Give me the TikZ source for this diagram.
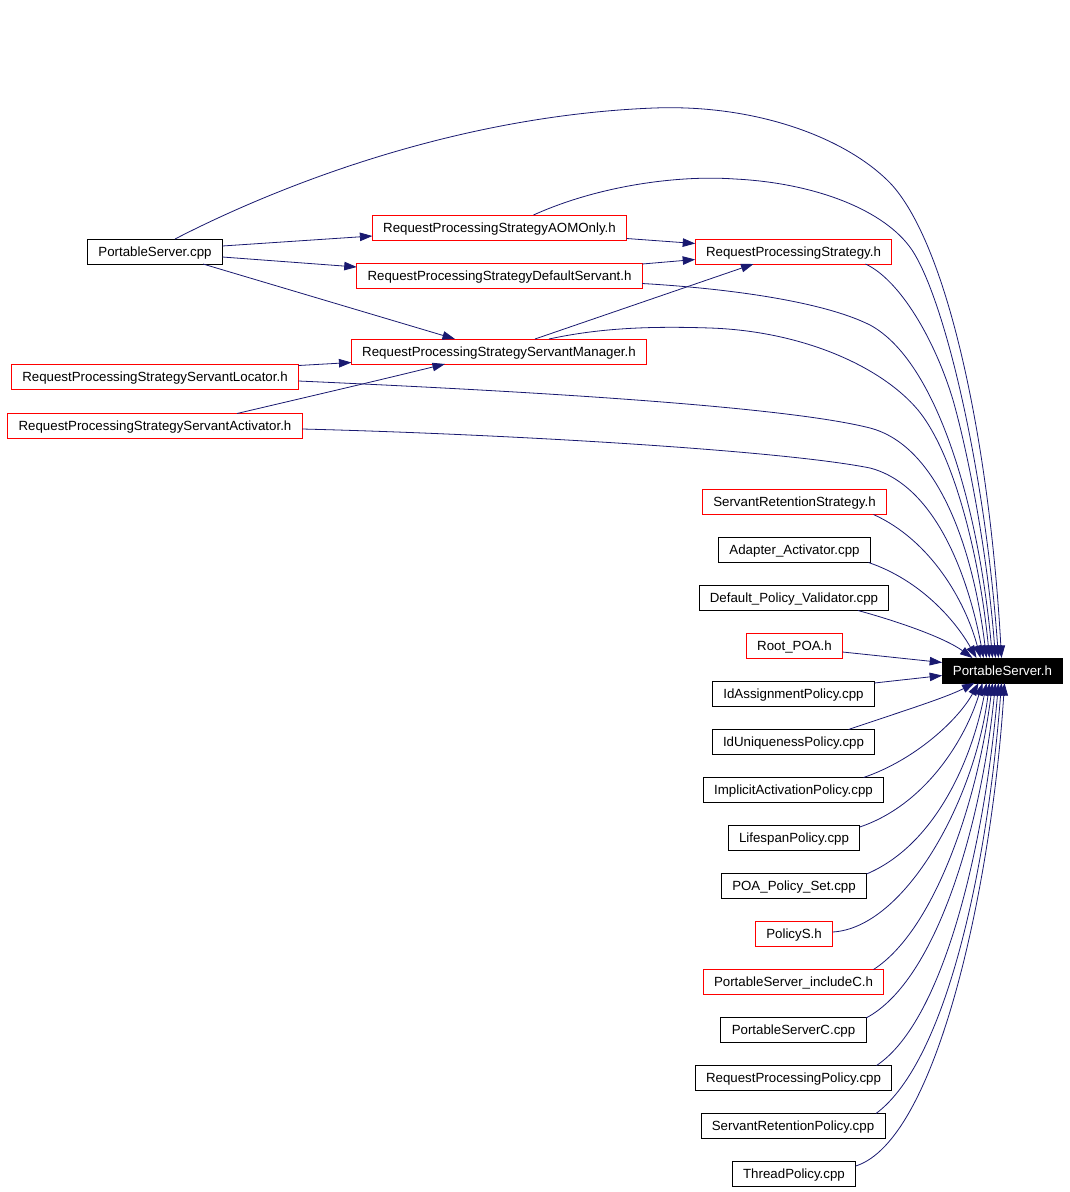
\documentclass[tikz,border=0pt]{standalone}
\usepackage{fontspec}
\setmainfont{Liberation Sans}
\usetikzlibrary{arrows.meta,calc}
\definecolor{edgeblue}{HTML}{191970}
\begin{document}
\begin{tikzpicture}[x=1pt,y=-1pt,
  box/.style={draw=black,line width=1pt,fill=white,inner xsep=10.8pt,inner ysep=0pt,
    minimum height=25pt,text height=9.6pt,text depth=0.6pt,
    font=\fontsize{13.3}{16}\selectfont,outer sep=0pt},
  redbox/.style={box,draw=red},
  darkbox/.style={box,fill=black,draw=black,text=white},
  edge/.style={draw=edgeblue,line width=0.8pt,-{Triangle[length=12.5pt,width=8.5pt]}}]
\useasboundingbox[fill=white] (0,0) rectangle (1069,1192);

% left / middle nodes
\node[box]    (pscpp) at (155,251.5) {PortableServer.cpp};
\node[redbox] (aom)   at (499.5,227.5) {RequestProcessingStrategyAOMOnly.h};
\node[redbox] (def)   at (499.5,275.5) {RequestProcessingStrategyDefaultServant.h};
\node[redbox] (rps)   at (793.5,251.5) {RequestProcessingStrategy.h};
\node[redbox] (sm)    at (499,351.5) {RequestProcessingStrategyServantManager.h};
\node[redbox] (sl)    at (155,376.5) {RequestProcessingStrategyServantLocator.h};
\node[redbox] (sa)    at (155,426) {RequestProcessingStrategyServantActivator.h};

% right column
\node[redbox] (srs)  at (794.5,502) {ServantRetentionStrategy.h};
\node[box]    (aa)   at (794.5,550) {Adapter\_Activator.cpp};
\node[box]    (dpv)  at (794,598) {Default\_Policy\_Validator.cpp};
\node[redbox] (root) at (794.5,646) {Root\_POA.h};
\node[box]    (ida)  at (793.5,694) {IdAssignmentPolicy.cpp};
\node[box]    (idu)  at (793.5,742) {IdUniquenessPolicy.cpp};
\node[box]    (iap)  at (793.5,790) {ImplicitActivationPolicy.cpp};
\node[box]    (lsp)  at (794,838) {LifespanPolicy.cpp};
\node[box]    (pps)  at (794,886) {POA\_Policy\_Set.cpp};
\node[redbox] (pol)  at (794,934) {PolicyS.h};
\node[redbox] (inc)  at (793.5,982) {PortableServer\_includeC.h};
\node[box]    (psc)  at (793.5,1030) {PortableServerC.cpp};
\node[box]    (rpp)  at (793.5,1078) {RequestProcessingPolicy.cpp};
\node[box]    (srp)  at (793,1126) {ServantRetentionPolicy.cpp};
\node[box]    (thr)  at (794,1174) {ThreadPolicy.cpp};

\node[darkbox] (psh) at (1002.5,670.5) {PortableServer.h};

% edges among upper nodes
\draw[edge] ($(pscpp.east)+(0,-5.5)$) -- ($(aom.west)+(0,8.5)$);
\draw[edge] ($(pscpp.east)+(0,5.5)$) -- ($(def.west)+(0,-8.5)$);
\draw[edge] ($(pscpp.south)+(48,0)$) -- ($(sm.north)+(-44,0)$);
\draw[edge] ($(aom.east)+(0,11)$) -- ($(rps.west)+(0,-8)$);
\draw[edge] ($(def.east)+(0,-11.5)$) -- ($(rps.west)+(0,8)$);
\draw[edge] ($(sm.north)+(36,0)$) -- ($(rps.south)+(-40,0)$);
\draw[edge] ($(sl.east)+(0,-11)$) -- ($(sm.west)+(0,11)$);
\draw[edge] ($(sa.north)+(82,0)$) .. controls (320,394) and (380,380) .. ($(sm.south)+(-54,0)$);

% long curves into PortableServer.h (from above)
\draw[edge] ($(pscpp.north)+(20,0)$) .. controls (270,190) and (450,116) .. (654,108)
  .. controls (760,104) and (850,140) .. (892,185)
  .. controls (950,250) and (990,450) .. ($(psh.north)+(-1,0)$);
\draw[edge] ($(aom.north)+(34,0)$) .. controls (600,185) and (680,175) .. (735,179)
  .. controls (815,183) and (885,210) .. (912,250)
  .. controls (945,300) and (985,470) .. ($(psh.north)+(-4,0)$);
\draw[edge] ($(rps.south)+(72,0)$) .. controls (900,280) and (935,340) .. (953,400)
  .. controls (970,460) and (988,560) .. ($(psh.north)+(-7,0)$);
\draw[edge] ($(def.east)+(0,8)$) .. controls (720,288) and (820,300) .. (870,325)
  .. controls (935,360) and (978,500) .. ($(psh.north)+(-10,0)$);
\draw[edge] ($(sm.north)+(50,0)$) .. controls (600,328) and (650,326) .. (710,328)
  .. controls (800,331) and (880,365) .. (918,410)
  .. controls (955,455) and (980,560) .. ($(psh.north)+(-13,0)$);
\draw[edge] ($(sl.east)+(0,4.5)$) .. controls (500,390) and (780,405) .. (870,428)
  .. controls (935,445) and (972,540) .. ($(psh.north)+(-16,0)$);
\draw[edge] ($(sa.east)+(0,3)$) .. controls (500,434) and (780,450) .. (870,468)
  .. controls (935,485) and (968,575) .. ($(psh.north)+(-19,0)$);
\draw[edge] ($(srs.south)+(79,0)$) .. controls (930,540) and (965,600) .. ($(psh.north)+(-22,0)$);
\draw[edge] ($(aa.south)+(74,0)$) .. controls (920,580) and (955,620) .. ($(psh.north)+(-26,0)$);
\draw[edge] ($(dpv.south)+(64,0)$) .. controls (900,622) and (945,638) .. ($(psh.north)+(-30,0)$);

% side arrivals
\draw[edge] ($(root.east)+(0,6)$) -- ($(psh.west)+(0,-8)$);
\draw[edge] ($(ida.east)+(0,-11)$) -- ($(psh.west)+(0,5)$);

% from below
\draw[edge] ($(idu.north)+(55,0)$) .. controls (900,712) and (945,698) .. ($(psh.south)+(-28,0)$);
\draw[edge] ($(iap.north)+(70,0)$) .. controls (915,760) and (958,720) .. ($(psh.south)+(-24,0)$);
\draw[edge] ($(lsp.east)+(0,-11)$) .. controls (925,805) and (965,740) .. ($(psh.south)+(-20,0)$);
\draw[edge] ($(pps.east)+(0,-12)$) .. controls (935,845) and (972,760) .. ($(psh.south)+(-16,0)$);
\draw[edge] ($(pol.east)+(0,-2)$) .. controls (905,928) and (975,800) .. ($(psh.south)+(-13,0)$);
\draw[edge] ($(inc.north)+(80,0)$) .. controls (935,930) and (978,800) .. ($(psh.south)+(-10,0)$);
\draw[edge] ($(psc.east)+(0,-12)$) .. controls (938,980) and (982,820) .. ($(psh.south)+(-7,0)$);
\draw[edge] ($(rpp.north)+(83,0)$) .. controls (945,1020) and (985,840) .. ($(psh.south)+(-4,0)$);
\draw[edge] ($(srp.north)+(83,0)$) .. controls (948,1060) and (988,860) .. ($(psh.south)+(-1,0)$);
\draw[edge] ($(thr.east)+(0,-8)$) .. controls (938,1140) and (992,880) .. ($(psh.south)+(2,0)$);
\end{tikzpicture}
\end{document}
